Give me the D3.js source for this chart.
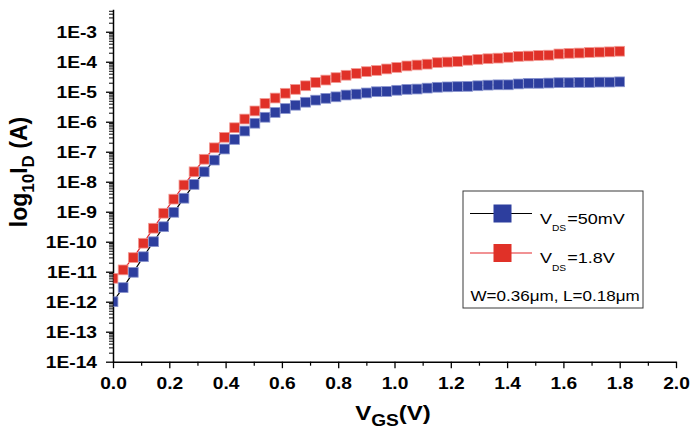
<!DOCTYPE html>
<html>
<head>
<meta charset="utf-8">
<script src="https://cdn.jsdelivr.net/npm/d3@7"></script>
<style>
  html, body { margin: 0; padding: 0; background: #fff; }
  svg { display: block; font-family: "Liberation Sans", Arial, Helvetica, sans-serif; }
</style>
</head>
<body>
<svg id="chart" width="691" height="429"></svg>
<script>
// ---------- data ----------
const vgs = [0, 0.036, 0.072, 0.108, 0.144, 0.18, 0.216, 0.252, 0.288, 0.324, 0.36,
  0.396, 0.432, 0.468, 0.504, 0.54, 0.576, 0.612, 0.648, 0.684, 0.72, 0.756, 0.792,
  0.828, 0.864, 0.9, 0.936, 0.972, 1.008, 1.044, 1.08, 1.116, 1.152, 1.188, 1.224,
  1.26, 1.296, 1.332, 1.368, 1.404, 1.44, 1.476, 1.512, 1.548, 1.584, 1.62, 1.656,
  1.692, 1.728, 1.764, 1.8];

// drain current (A), VDS = 50 mV
const idLow = [1.0e-12, 2.95e-12, 9.55e-12, 3.16e-11, 1.0e-10, 3.16e-10, 9.55e-10,
  2.82e-9, 8.13e-9, 2.14e-8, 5.25e-8, 1.23e-7, 2.57e-7, 4.90e-7, 8.91e-7, 1.41e-6,
  2.04e-6, 2.75e-6, 3.55e-6, 4.47e-6, 5.25e-6, 6.03e-6, 6.76e-6, 7.76e-6, 8.32e-6,
  9.12e-6, 1.00e-5, 1.02e-5, 1.12e-5, 1.20e-5, 1.23e-5, 1.32e-5, 1.41e-5, 1.45e-5,
  1.48e-5, 1.51e-5, 1.58e-5, 1.66e-5, 1.70e-5, 1.70e-5, 1.82e-5, 1.91e-5, 1.91e-5,
  1.95e-5, 2.00e-5, 2.00e-5, 2.04e-5, 2.04e-5, 2.09e-5, 2.09e-5, 2.14e-5];

// drain current (A), VDS = 1.8 V
const idHigh = [6.03e-12, 1.15e-11, 2.95e-11, 8.91e-11, 2.82e-10, 8.91e-10, 2.63e-9,
  7.76e-9, 2.14e-8, 5.62e-8, 1.35e-7, 3.02e-7, 6.31e-7, 1.23e-6, 2.29e-6, 4.07e-6,
  6.17e-6, 8.91e-6, 1.20e-5, 1.58e-5, 2.04e-5, 2.45e-5, 2.95e-5, 3.55e-5, 4.07e-5,
  4.68e-5, 5.13e-5, 5.75e-5, 6.46e-5, 7.24e-5, 7.76e-5, 8.32e-5, 9.33e-5, 9.77e-5,
  1.02e-4, 1.12e-4, 1.20e-4, 1.26e-4, 1.32e-4, 1.41e-4, 1.51e-4, 1.55e-4, 1.62e-4,
  1.66e-4, 1.82e-4, 1.91e-4, 1.95e-4, 2.04e-4, 2.09e-4, 2.14e-4, 2.24e-4];

const yTickValues = [1e-14, 1e-13, 1e-12, 1e-11, 1e-10, 1e-9, 1e-8, 1e-7, 1e-6, 1e-5, 1e-4, 1e-3];
const yTickLabels = ["1E-14", "1E-13", "1E-12", "1E-11", "1E-10", "1E-9", "1E-8", "1E-7", "1E-6", "1E-5", "1E-4", "1E-3"];
const xTickValues = [0, 0.2, 0.4, 0.6, 0.8, 1.0, 1.2, 1.4, 1.6, 1.8, 2.0];
const xTickLabels = ["0.0", "0.2", "0.4", "0.6", "0.8", "1.0", "1.2", "1.4", "1.6", "1.8", "2.0"];
const xMinorValues = [0.1, 0.3, 0.5, 0.7, 0.9, 1.1, 1.3, 1.5, 1.7, 1.9];

const seriesNames = ["=50mV", "=1.8V"];
const noteText = "W=0.36\u03bcm, L=0.18\u03bcm";

// ---------- drawing ----------
const svg = d3.select("#chart");
svg.append("rect").attr("width", 691).attr("height", 429).attr("fill", "#fff");

const SX = 1.2; // horizontal glyph stretch of the original picture

const x = d3.scaleLinear().domain([0, 2]).range([113, 676]);
const y = d3.scaleLog().domain([1e-14, 5.6e-3]).range([361.7, 9.3]);

// minor y ticks
const yMinor = [];
yTickValues.forEach(d => { for (let k = 2; k <= 9; k++) { const v = k * d; if (v <= y.domain()[1]) yMinor.push(v); } });

const axisColor = "#000";

// y minor ticks
svg.append("g").attr("transform", "translate(113,0)")
  .call(d3.axisLeft(y).tickValues(yMinor).tickSize(4).tickFormat(""))
  .call(g => g.select(".domain").remove())
  .selectAll("line").attr("stroke", axisColor).attr("stroke-width", 1);

// y major
const yAxis = svg.append("g").attr("transform", "translate(113,0)")
  .call(d3.axisLeft(y).tickValues(yTickValues).tickSize(7).tickSizeOuter(0)
    .tickFormat((d, i) => yTickLabels[i]));
yAxis.select(".domain").attr("stroke", axisColor).attr("stroke-width", 1.5);
yAxis.selectAll(".tick line").attr("stroke", axisColor).attr("stroke-width", 1.3);
yAxis.selectAll(".tick text")
  .attr("x", -16 / SX).attr("dy", "0.36em")
  .attr("transform", `scale(${SX},1)`)
  .attr("font-size", 16).attr("font-weight", "bold").attr("fill", "#000")
  .attr("font-family", "Liberation Sans, Arial, sans-serif");

// x minor ticks
svg.append("g").attr("transform", "translate(0,361.7)")
  .call(d3.axisBottom(x).tickValues(xMinorValues).tickSize(4).tickFormat(""))
  .call(g => g.select(".domain").remove())
  .selectAll("line").attr("stroke", axisColor).attr("stroke-width", 1.2);

const xAxis = svg.append("g").attr("transform", "translate(0,361.7)")
  .call(d3.axisBottom(x).tickValues(xTickValues).tickSize(6.5).tickSizeOuter(0)
    .tickFormat((d, i) => xTickLabels[i]));
xAxis.select(".domain").attr("stroke", axisColor).attr("stroke-width", 1.5);
xAxis.selectAll(".tick line").attr("stroke", axisColor).attr("stroke-width", 1.3);
xAxis.selectAll(".tick text")
  .attr("y", 16).attr("dy", "0.71em")
  .attr("transform", `scale(${SX},1)`)
  .attr("font-size", 16).attr("font-weight", "bold").attr("fill", "#000")
  .attr("font-family", "Liberation Sans, Arial, sans-serif");

// clip for data
svg.append("clipPath").attr("id", "plotclip")
  .append("rect").attr("x", 113.5).attr("y", 0).attr("width", 580).attr("height", 361);

const plot = svg.append("g").attr("clip-path", "url(#plotclip)");

const series = [
  { vals: idHigh, line: "#e3262b", fill: "#e03128", edge: "#f29a94" },
  { vals: idLow, line: "#000000", fill: "#2d3e9e", edge: "#8a95cf" }
];

const lineGen = d3.line().x((d, i) => x(vgs[i])).y(d => y(d));
const MS = 9.8;
series.forEach(s => {
  plot.append("path").datum(s.vals).attr("d", lineGen)
    .attr("fill", "none").attr("stroke", s.line).attr("stroke-width", 1.2);
  plot.selectAll(null).data(s.vals).enter().append("rect")
    .attr("x", (d, i) => x(vgs[i]) - MS / 2)
    .attr("y", d => y(d) - MS / 2)
    .attr("width", MS).attr("height", MS)
    .attr("fill", s.fill).attr("stroke", s.edge).attr("stroke-width", 0.8);
});

// ---------- legend ----------
const lg = svg.append("g");
lg.append("rect").attr("x", 463).attr("y", 191).attr("width", 180).attr("height", 117)
  .attr("fill", "#fff").attr("stroke", "#3a3a3a").attr("stroke-width", 1);

const legendItems = [
  { name: seriesNames[0], line: "#000", fill: "#2d3e9e", cy: 213.5 },
  { name: seriesNames[1], line: "#e3262b", fill: "#e03128", cy: 253 }
];
legendItems.forEach(it => {
  lg.append("line").attr("x1", 470).attr("x2", 532).attr("y1", it.cy).attr("y2", it.cy)
    .attr("stroke", it.line).attr("stroke-width", 1.2);
  lg.append("rect").attr("x", 502.5 - 9).attr("y", it.cy - 9).attr("width", 18).attr("height", 18)
    .attr("fill", it.fill);
  const t = lg.append("g").attr("transform", `translate(540,${it.cy + 10}) scale(${SX},1)`)
    .append("text").attr("font-size", 15).attr("fill", "#000");
  t.append("tspan").text("V");
  t.append("tspan").attr("font-size", 8.5).attr("dy", 8).text("DS");
  t.append("tspan").attr("dy", -8).attr("dx", 1).text(it.name);
});
lg.append("g").attr("transform", `translate(470.5,301) scale(${SX},1)`)
  .append("text").attr("font-size", 14.2).attr("fill", "#000").text(noteText);

// ---------- axis titles ----------
const xt = svg.append("g").attr("transform", `translate(393,420) scale(${SX},1)`)
  .append("text").attr("text-anchor", "middle").attr("font-weight", "bold").attr("fill", "#000");
xt.append("tspan").attr("font-size", 20).text("V");
xt.append("tspan").attr("font-size", 16).attr("dy", 6).text("GS");
xt.append("tspan").attr("font-size", 20).attr("dy", -6).text("(V)");

const yt = svg.append("g").attr("transform", "translate(27,172) rotate(-90)")
  .append("text").attr("text-anchor", "middle").attr("font-weight", "bold").attr("fill", "#000");
yt.append("tspan").attr("font-size", 23).text("log");
yt.append("tspan").attr("font-size", 17).attr("dy", 7).text("10");
yt.append("tspan").attr("font-size", 23).attr("dy", -7).text("I");
yt.append("tspan").attr("font-size", 17).attr("dy", 7).text("D");
yt.append("tspan").attr("font-size", 23).attr("dy", -7).text(" (A)");
</script>
</body>
</html>
